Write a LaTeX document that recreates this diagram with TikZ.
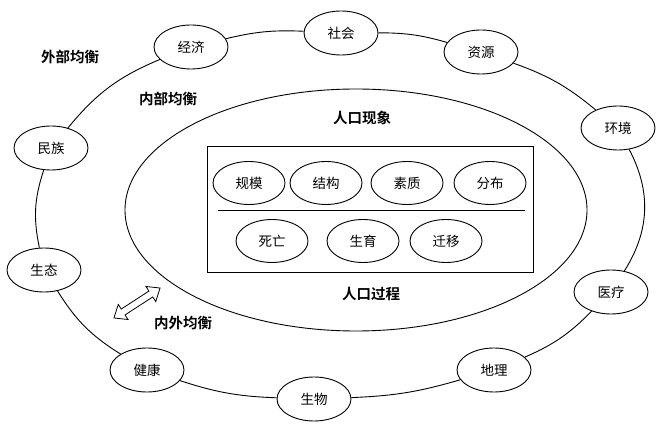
\documentclass[tikz,border=0pt]{standalone}
\usepackage{fontspec}
\setmainfont{Noto Sans CJK SC}
\newfontfamily\cjkbold[BoldFont={Noto Sans CJK SC Bold}]{Noto Sans CJK SC}
\usetikzlibrary{shapes.geometric}
\begin{document}
\begin{tikzpicture}[x=1pt,y=1pt,
  ring/.style={ellipse,draw,line width=0.9pt,fill=white,minimum width=74pt,minimum height=44pt,inner sep=0pt,font=\fontsize{13.5}{14}\selectfont},
  item/.style={ellipse,draw,line width=0.9pt,minimum width=72pt,minimum height=43pt,inner sep=0pt,font=\fontsize{13.5}{14}\selectfont},
  lbl/.style={font=\fontsize{14.5}{15}\selectfont\bfseries,inner sep=0pt},
  link/.style={line width=0.9pt}]
\useasboundingbox (0,0) rectangle (669,431);
% outer ring nodes
\node[ring] (jj) at (191,384) {经济};
\node[ring] (sh) at (341,398) {社会};
\node[ring] (zy) at (481,379) {资源};
\node[ring] (hj) at (618,303) {环境};
\node[ring] (yl) at (611,139) {医疗};
\node[ring] (dl) at (494,61) {地理};
\node[ring] (sw) at (314,32) {生物};
\node[ring] (jk) at (147,61) {健康};
\node[ring] (st) at (44,161) {生态};
\node[ring] (mz) at (51,283) {民族};
% ring connectors
\draw[link] (jj) to[bend left=8] (sh);
\draw[link] (sh) to[bend left=8] (zy);
\draw[link] (zy) to[bend left=10] (hj);
\draw[link] (hj) to[bend left=30] (yl);
\draw[link] (yl) to[bend left=11] (dl);
\draw[link] (dl) to[bend left=7] (sw);
\draw[link] (sw) to[bend left=8] (jk);
\draw[link] (jk) to[bend left=13] (st);
\draw[link] (st) to[bend left=15] (mz);
\draw[link] (mz) to[bend left=14] (jj);
% inner ellipse
\node[ellipse,draw,line width=0.9pt,minimum width=462pt,minimum height=242pt,inner sep=0pt] (inner) at (356,221) {};
% box
\node[draw,line width=1pt,minimum width=326pt,minimum height=126pt,inner sep=0pt] (box) at (370,221) {};
\coordinate (sepL) at (218,220);
\coordinate (sepR) at (525,220);
\draw[line width=1pt] (sepL) -- (sepR);
\node[item] (gm) at (249,248) {规模};
\node[item] (jg) at (326,248) {结构};
\node[item] (sz) at (407,248) {素质};
\node[item] (fb) at (490,248) {分布};
\node[item] (sq) at (272,190) {死亡};
\node[item] (sy) at (363,190) {生育};
\node[item] (qy) at (446,190) {迁移};
% labels
\node[lbl] (wb) at (70,374) {\cjkbold 外部均衡};
\node[lbl] (nb) at (168,332) {\cjkbold 内部均衡};
\node[lbl] (xx) at (362,313) {\cjkbold 人口现象};
\node[lbl] (gc) at (371,137) {\cjkbold 人口过程};
\node[lbl] (nw) at (183,108) {\cjkbold 内外均衡};
% hollow double arrow
\begin{scope}[shift={(137,128)},rotate=33]
\draw[line width=0.8pt,line join=miter,fill=white]
  (-27.5,0) -- (-16.5,9) -- (-16.5,3.5) -- (16.5,3.5) -- (16.5,9) -- (27.5,0)
  -- (16.5,-9) -- (16.5,-3.5) -- (-16.5,-3.5) -- (-16.5,-9) -- cycle;
\end{scope}
\end{tikzpicture}
\end{document}
